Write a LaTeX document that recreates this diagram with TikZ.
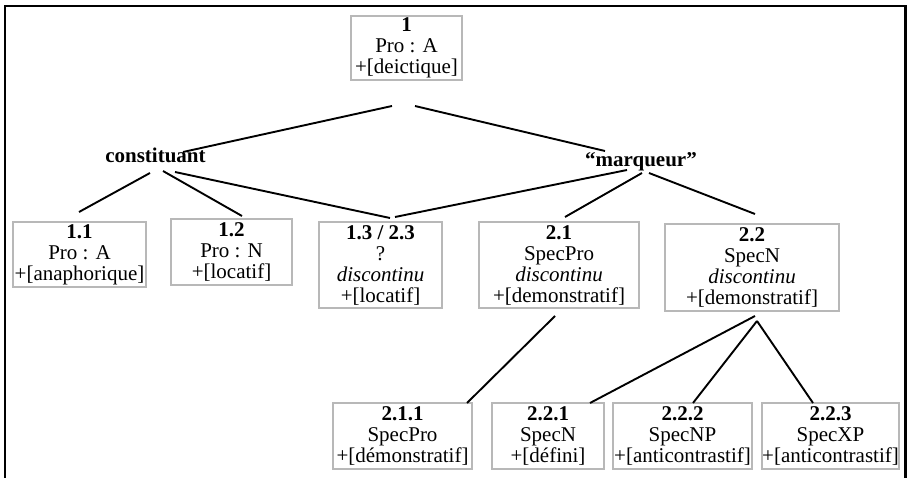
\documentclass[tikz,border=0pt]{standalone}
\usepackage{fontspec}
\setmainfont{Liberation Serif}
\definecolor{boxgray}{HTML}{B8B8B8}
\begin{document}
\begin{tikzpicture}[x=1pt,y=-1pt,
  every node/.style={font=\fontsize{21}{21}\selectfont},
  box/.style={draw=boxgray, line width=1.8pt, inner sep=0pt, align=center},
  cat/.style={font=\fontsize{21}{21}\selectfont\bfseries, inner sep=0pt, anchor=base},
  link/.style={line width=1.9pt, black}]
\useasboundingbox (0,0) rectangle (908,478);
\draw[line width=2.2pt] (5,478) -- (5,6) -- (905.5,6) -- (905.5,478);

% boxes
\node[box, minimum width=111pt, minimum height=64pt] (n1) at (406.5,48) {\textbf{1}\\Pro : A\\+[deictique]};
\node[box, minimum width=133pt, minimum height=65pt] (n11) at (79.5,254.5) {\textbf{1.1}\\Pro : A\\+[anaphorique]};
\node[box, minimum width=121pt, minimum height=66pt] (n12) at (231.5,252) {\textbf{1.2}\\Pro : N\\+[locatif]};
\node[box, minimum width=123pt, minimum height=86pt] (n13) at (380.5,265) {\textbf{1.3 / 2.3}\\?\\\textit{discontinu}\\+[locatif]};
\node[box, minimum width=160pt, minimum height=86pt] (n21) at (559,265) {\textbf{2.1}\\SpecPro\\\textit{discontinu}\\+[demonstratif]};
\node[box, minimum width=174pt, minimum height=87pt] (n22) at (752,267.5) {\textbf{2.2}\\SpecN\\\textit{discontinu}\\+[demonstratif]};
\node[box, minimum width=139pt, minimum height=66pt] (n211) at (402.5,436) {\textbf{2.1.1}\\SpecPro\\+[démonstratif]};
\node[box, minimum width=112pt, minimum height=66pt] (n221) at (548,436) {\textbf{2.2.1}\\SpecN\\+[défini]};
\node[box, minimum width=139pt, minimum height=66pt] (n222) at (682.5,436) {\textbf{2.2.2}\\SpecNP\\+[anticontrastif]};
\node[box, minimum width=135pt, minimum height=66pt] (n223) at (830.5,436) {\textbf{2.2.3}\\SpecXP\\+[anticontrastif]};

% category labels
\node[cat] (cons) at (155.5,163) {constituant};
\node[cat] (marq) at (641,167) {“marqueur”};

% connector end points
\coordinate (t1) at (392,106);
\coordinate (t2) at (415,106);
\coordinate (cA) at (183,152);
\coordinate (mA) at (605,151);
\coordinate (c1) at (150,173);
\coordinate (c2) at (163,171);
\coordinate (c3) at (175,172);
\coordinate (e11) at (79,212);
\coordinate (e12) at (242,216);
\coordinate (e13a) at (390,218);
\coordinate (e13b) at (395,217);
\coordinate (m1) at (627,170);
\coordinate (m2) at (642,173);
\coordinate (m3) at (649,173);
\coordinate (e21) at (565,217);
\coordinate (e22) at (755,214);
\coordinate (b21) at (555,316);
\coordinate (b22a) at (755,316);
\coordinate (b22b) at (757,321);
\coordinate (e211) at (467,403);
\coordinate (e221) at (590,403);
\coordinate (e222) at (693,403);
\coordinate (e223) at (813,403);

\draw[link] (t1) -- (cA);
\draw[link] (t2) -- (mA);
\draw[link] (c1) -- (e11);
\draw[link] (c2) -- (e12);
\draw[link] (c3) -- (e13a);
\draw[link] (m1) -- (e13b);
\draw[link] (m2) -- (e21);
\draw[link] (m3) -- (e22);
\draw[link] (b21) -- (e211);
\draw[link] (b22a) -- (e221);
\draw[link] (b22b) -- (e222);
\draw[link] (b22b) -- (e223);
\end{tikzpicture}
\end{document}
